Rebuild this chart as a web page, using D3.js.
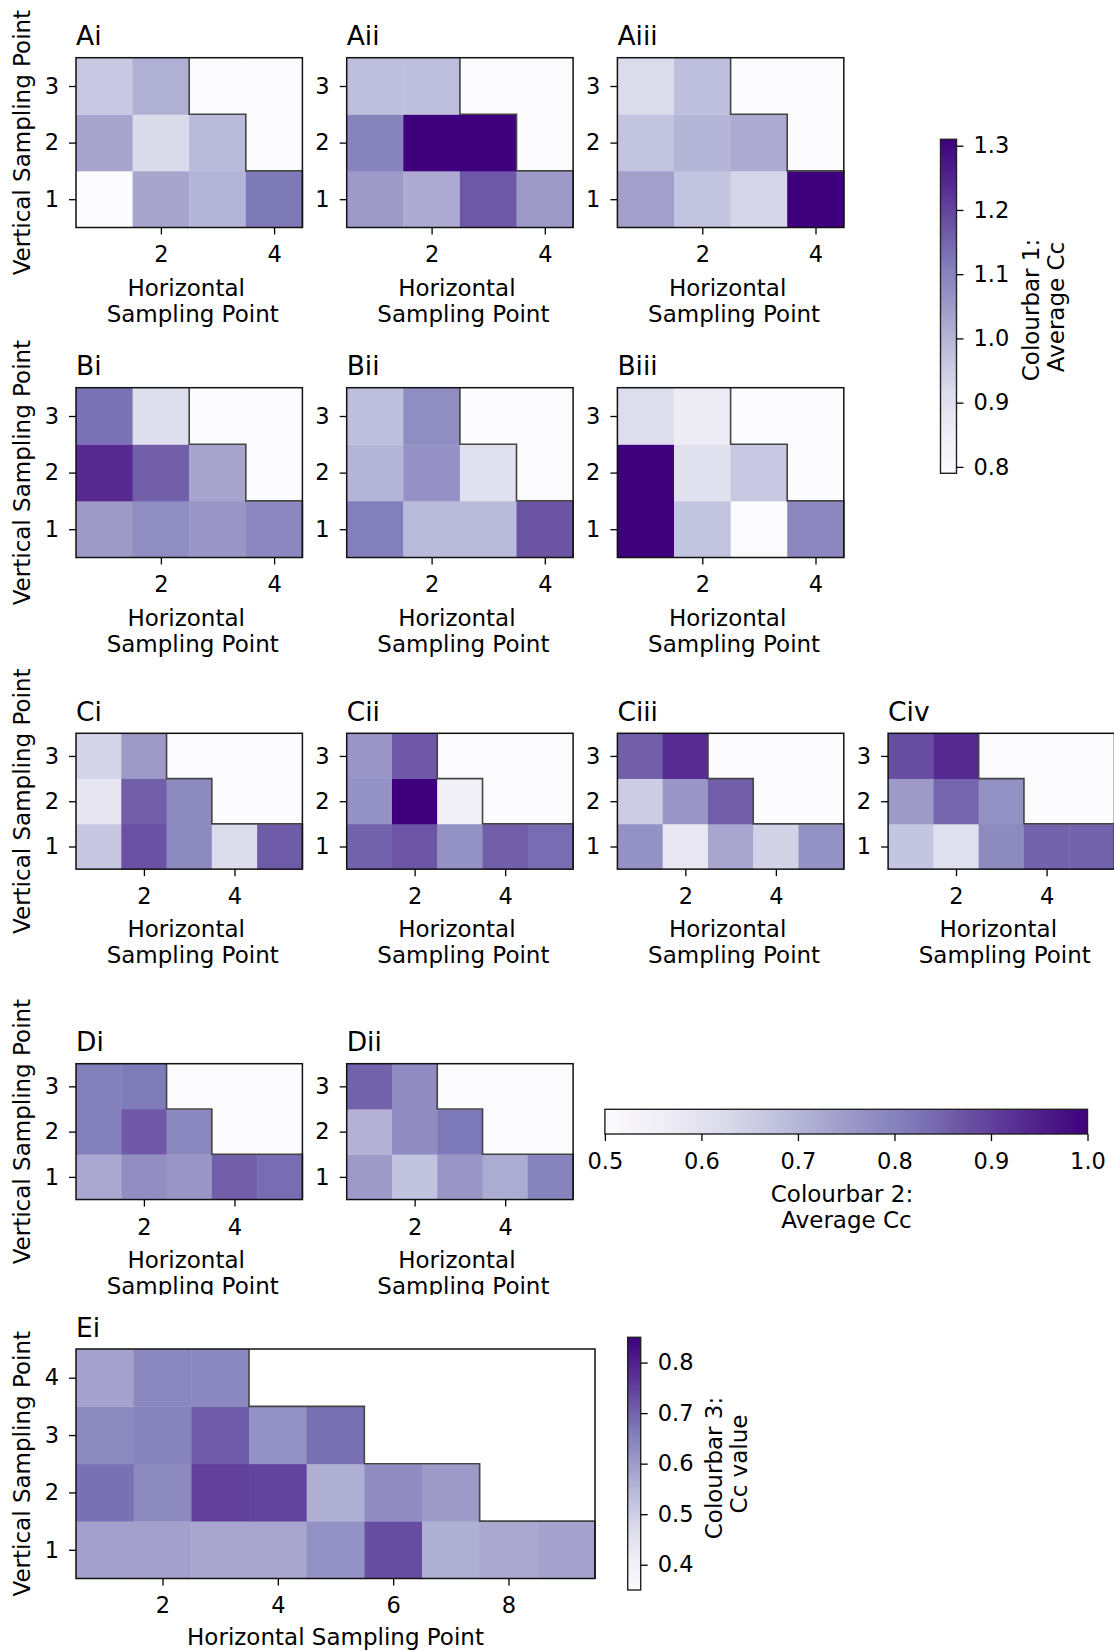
<!DOCTYPE html>
<html>
<head>
<meta charset="utf-8">
<script src="https://cdn.jsdelivr.net/npm/d3@7"></script>
<style>
  body { margin: 0; background: #fff; }
  svg { display: block; font-family: "DejaVu Sans", sans-serif; }
</style>
</head>
<body>
<div id="chart"></div>
<script>
// average Cc per cell, one array per vertical sampling point (1 = bottom), null = not sampled
const Ai   = [[0.79, 1.03, 1.00, 1.12], [1.03, 0.92, 0.99, null], [0.96, 1.01, null, null]]
const Aii  = [[1.05, 1.02, 1.17, 1.05], [1.10, 1.31, 1.31, null], [0.98, 0.98, null, null]]
const Aiii = [[1.04, 0.97, 0.93, 1.31], [0.97, 1.00, 1.02, null], [0.915, 0.98, null, null]]
const Bi   = [[1.05, 1.08, 1.06, 1.09], [1.24, 1.16, 1.03, null], [1.13, 0.905, null, null]]
const Bii  = [[1.11, 0.99, 0.99, 1.175], [1.00, 1.07, 0.90, null], [0.98, 1.08, null, null]]
const Biii = [[1.31, 0.97, 0.795, 1.09], [1.31, 0.90, 0.96, null], [0.91, 0.86, null, null]]

const Ci   = [[0.665, 0.875, 0.785, 0.62, 0.86], [0.585, 0.855, 0.785, null, null], [0.635, 0.75, null, null, null]]
const Cii  = [[0.85, 0.87, 0.77, 0.855, 0.835], [0.77, 1.00, 0.55, null, null], [0.76, 0.865, null, null, null]]
const Ciii = [[0.77, 0.58, 0.73, 0.64, 0.77], [0.655, 0.76, 0.855, null, null], [0.855, 0.93, null, null, null]]
const Civ  = [[0.67, 0.61, 0.785, 0.85, 0.85], [0.75, 0.845, 0.77, null, null], [0.88, 0.935, null, null, null]]
const Di   = [[0.725, 0.775, 0.76, 0.855, 0.835], [0.805, 0.865, 0.79, null, null], [0.805, 0.815, null, null, null]]
const Dii  = [[0.75, 0.675, 0.76, 0.72, 0.80], [0.705, 0.78, 0.82, null, null], [0.85, 0.78, null, null, null]]

// Cc value per cell
const Ei = [
  [0.59, 0.59, 0.58, 0.58, 0.62, 0.73, 0.565, 0.575, 0.585],
  [0.68, 0.635, 0.75, 0.745, 0.565, 0.63, 0.60, null, null],
  [0.635, 0.65, 0.71, 0.62, 0.68, null, null, null, null],
  [0.585, 0.64, 0.64, null, null, null, null, null, null]
]

const cbar1_domain = [0.79, 1.31]
const cbar2_domain = [0.5, 1.0]
const cbar3_domain = [0.35, 0.85]
const cbar1_ticks = [0.8, 0.9, 1.0, 1.1, 1.2, 1.3]
const cbar2_ticks = [0.5, 0.6, 0.7, 0.8, 0.9, 1.0]
const cbar3_ticks = [0.4, 0.5, 0.6, 0.7, 0.8]
const small_xticks = [2, 4]
const small_yticks = [1, 2, 3]
const big_xticks = [2, 4, 6, 8]
const big_yticks = [1, 2, 3, 4]

const W = 1114, H = 1651
const FONT = 22.5

const purples = d3.schemePurples[9]
function cmap(domain){
  const [lo, hi] = domain
  return d3.scaleLinear()
    .domain(d3.range(9).map(i => lo + (hi - lo) * i / 8))
    .range(purples)
    .clamp(true)
}
const color1 = cmap(cbar1_domain)
const color2 = cmap(cbar2_domain)
const color3 = cmap(cbar3_domain)

const svg = d3.select('#chart').append('svg')
  .attr('width', W)
  .attr('height', H)
  .attr('viewBox', `0,0,${W},${H}`)

const defs = svg.append('defs')
defs.append('clipPath').attr('id', 'clipD')
  .append('rect').attr('x', 0).attr('y', 980).attr('width', W).attr('height', 315)

function styleAxis(g){
  g.select('.domain').remove()
  g.attr('font-family', null).attr('font-size', null)
  g.selectAll('line').attr('stroke', '#000').attr('stroke-width', 1.3)
  g.selectAll('text').attr('fill', '#000').style('font-size', FONT + 'px')
}

function heatmap(parent, opt){
  const data = opt.data
  const nrow = data.length, ncol = data[0].length
  const width = opt.width
  const height = opt.height || width / ncol * nrow
  const x = d3.scaleLinear().domain([0.5, ncol + 0.5]).range([opt.left, opt.left + width])
  const y = d3.scaleLinear().domain([0.5, nrow + 0.5]).range([opt.top + height, opt.top])

  const g = parent.append('g')

  const cells = data.flatMap((row, i) => row.map((v, j) => ({col: j + 1, row: i + 1, v: v})))
  g.append('g').selectAll('rect').data(cells).join('rect')
    .attr('x', d => x(d.col - 0.5))
    .attr('y', d => y(d.row + 0.5))
    .attr('width', d => x(d.col + 0.5) - x(d.col - 0.5) + 0.4)
    .attr('height', d => y(d.row - 0.5) - y(d.row + 0.5) + 0.4)
    .attr('fill', d => d.v == null ? opt.blank : opt.color(d.v))

  // staircase round the sampled region
  const counts = data.map(row => row.filter(v => v != null).length)
  const steps = []
  for(let r = nrow; r >= 1; r--){
    steps.push([counts[r - 1] + 0.5, r + 0.5], [counts[r - 1] + 0.5, r - 0.5])
  }
  g.append('path')
    .attr('d', d3.line().x(d => x(d[0])).y(d => y(d[1]))(steps))
    .attr('fill', 'none')
    .attr('stroke', '#444')
    .attr('stroke-width', 1.6)

  g.append('rect')
    .attr('x', opt.left).attr('y', opt.top)
    .attr('width', width).attr('height', height)
    .attr('fill', 'none').attr('stroke', '#111').attr('stroke-width', 1.5)

  g.append('g')
    .attr('transform', `translate(0,${opt.top + height})`)
    .call(d3.axisBottom(x).tickValues(opt.xticks).tickSize(7).tickPadding(12).tickFormat(d3.format('d')))
    .call(styleAxis)

  g.append('g')
    .attr('transform', `translate(${opt.left},0)`)
    .call(d3.axisLeft(y).tickValues(opt.yticks).tickSize(7).tickPadding(10).tickFormat(d3.format('d')))
    .call(styleAxis)

  g.append('text')
    .attr('x', opt.left).attr('y', opt.top - 12.5)
    .style('font-size', '26.5px')
    .text(opt.title)

  const cx = opt.left + width / 2
  const bottom = opt.top + height
  if(opt.oneLine){
    g.append('text')
      .attr('x', cx).attr('y', bottom + 66)
      .attr('text-anchor', 'middle')
      .style('font-size', '23px')
      .text('Horizontal Sampling Point')
  } else {
    g.append('text')
      .attr('x', cx - 3).attr('y', bottom + 68.3)
      .attr('text-anchor', 'middle')
      .style('font-size', '23px')
      .text('Horizontal')
    g.append('text')
      .attr('x', cx + 3.5).attr('y', bottom + 94)
      .attr('text-anchor', 'middle')
      .style('font-size', '23px')
      .text('Sampling Point')
  }

  if(opt.ylabel){
    g.append('text')
      .attr('transform', `translate(30,${opt.top + height / 2}) rotate(-90)`)
      .attr('text-anchor', 'middle')
      .style('font-size', '23px')
      .text('Vertical Sampling Point')
  }
  return g
}

function colorbar(parent, opt){
  const id = 'grad' + opt.name
  const vertical = opt.orient == 'vertical'
  const grad = defs.append('linearGradient').attr('id', id)
    .attr('x1', 0).attr('y1', vertical ? 1 : 0)
    .attr('x2', vertical ? 0 : 1).attr('y2', 0)
  const [lo, hi] = opt.domain
  d3.range(0, 1.0001, 0.05).forEach(t => {
    grad.append('stop').attr('offset', t).attr('stop-color', opt.color(lo + t * (hi - lo)))
  })
  parent.append('rect')
    .attr('x', opt.x).attr('y', opt.y)
    .attr('width', opt.w).attr('height', opt.h)
    .attr('fill', `url(#${id})`)
    .attr('stroke', '#222').attr('stroke-width', 1.4)

  if(vertical){
    const s = d3.scaleLinear().domain(opt.domain).range([opt.y + opt.h, opt.y])
    parent.append('g')
      .attr('transform', `translate(${opt.x + opt.w},0)`)
      .call(d3.axisRight(s).tickValues(opt.ticks).tickSize(7).tickPadding(10).tickFormat(d3.format('.1f')))
      .call(styleAxis)
  } else {
    const s = d3.scaleLinear().domain(opt.domain).range([opt.x, opt.x + opt.w])
    parent.append('g')
      .attr('transform', `translate(0,${opt.y + opt.h})`)
      .call(d3.axisBottom(s).tickValues(opt.ticks).tickSize(7).tickPadding(12).tickFormat(d3.format('.1f')))
      .call(styleAxis)
  }
}

const colLeft = [76, 346.7, 617.4, 888.1]
const panelW = 226.4

const rows = [
  {top: 57.7,   panels: [['Ai', Ai], ['Aii', Aii], ['Aiii', Aiii]], color: color1},
  {top: 387.7,  panels: [['Bi', Bi], ['Bii', Bii], ['Biii', Biii]], color: color1},
  {top: 733.3,  panels: [['Ci', Ci], ['Cii', Cii], ['Ciii', Ciii], ['Civ', Civ]], color: color2},
  {top: 1063.7, panels: [['Di', Di], ['Dii', Dii]], color: color2, clip: 'url(#clipD)'}
]

rows.forEach(row => {
  const rg = svg.append('g')
  if(row.clip) rg.attr('clip-path', row.clip)
  row.panels.forEach(([name, data], i) => {
    heatmap(rg, {
      data: data, title: name, color: row.color, blank: purples[0],
      left: colLeft[i], top: row.top, width: panelW,
      xticks: small_xticks, yticks: small_yticks, ylabel: i == 0
    })
  })
})

heatmap(svg, {
  data: Ei, title: 'Ei', color: color3, blank: '#fff',
  left: 76, top: 1349, width: 519, height: 229.5,
  xticks: big_xticks, yticks: big_yticks, ylabel: true, oneLine: true
})

// colourbar 1
colorbar(svg, {name: 1, orient: 'vertical', x: 940.5, y: 139.3, w: 16, h: 334,
  domain: cbar1_domain, ticks: cbar1_ticks, color: color1})
svg.append('text')
  .attr('transform', 'translate(1038.5,310) rotate(-90)')
  .attr('text-anchor', 'middle').style('font-size', '23px')
  .text('Colourbar 1:')
svg.append('text')
  .attr('transform', 'translate(1064,307) rotate(-90)')
  .attr('text-anchor', 'middle').style('font-size', '23px')
  .text('Average Cc')

// colourbar 2
colorbar(svg, {name: 2, orient: 'horizontal', x: 604.9, y: 1109.3, w: 482.6, h: 24.7,
  domain: cbar2_domain, ticks: cbar2_ticks, color: color2})
svg.append('text')
  .attr('x', 842).attr('y', 1201.7)
  .attr('text-anchor', 'middle').style('font-size', '23px')
  .text('Colourbar 2:')
svg.append('text')
  .attr('x', 846.5).attr('y', 1228)
  .attr('text-anchor', 'middle').style('font-size', '23px')
  .text('Average Cc')

// colourbar 3
colorbar(svg, {name: 3, orient: 'vertical', x: 627.7, y: 1337.3, w: 13, h: 252.7,
  domain: cbar3_domain, ticks: cbar3_ticks, color: color3})
svg.append('text')
  .attr('transform', 'translate(722,1468) rotate(-90)')
  .attr('text-anchor', 'middle').style('font-size', '23px')
  .text('Colourbar 3:')
svg.append('text')
  .attr('transform', 'translate(747,1464) rotate(-90)')
  .attr('text-anchor', 'middle').style('font-size', '23px')
  .text('Cc value')
</script>
</body>
</html>
